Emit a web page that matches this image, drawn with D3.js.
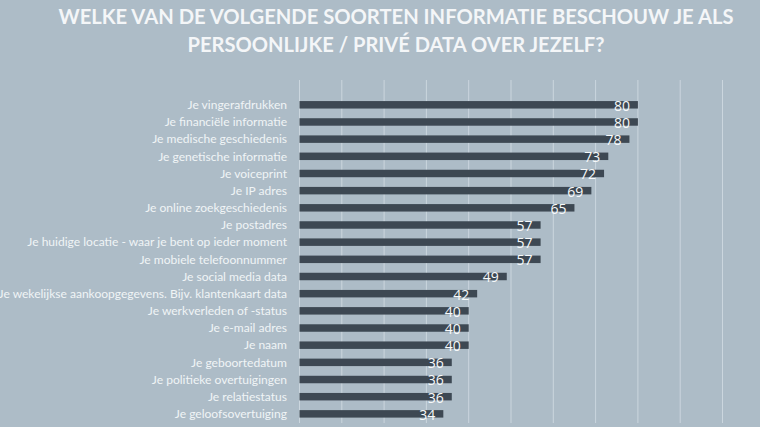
<!DOCTYPE html>
<html><head><meta charset="utf-8">
<script src="https://cdn.jsdelivr.net/npm/d3@7/dist/d3.min.js"></script>
<style>
html,body{margin:0;padding:0;background:#adbcc7;}
svg{display:block;}
</style></head>
<body>
<svg id="chart" width="760" height="427"></svg>
<script>
const titleLines = ["WELKE VAN DE VOLGENDE SOORTEN INFORMATIE BESCHOUW JE ALS", "PERSOONLIJKE / PRIVÉ DATA OVER JEZELF?"];
const categories = [
  "Je vingerafdrukken",
  "Je financiële informatie",
  "Je medische geschiedenis",
  "Je genetische informatie",
  "Je voiceprint",
  "Je IP adres",
  "Je online zoekgeschiedenis",
  "Je postadres",
  "Je huidige locatie - waar je bent op ieder moment",
  "Je mobiele telefoonnummer",
  "Je social media data",
  "Je wekelijkse aankoopgegevens. Bijv. klantenkaart data",
  "Je werkverleden of -status",
  "Je e-mail adres",
  "Je naam",
  "Je geboortedatum",
  "Je politieke overtuigingen",
  "Je relatiestatus",
  "Je geloofsovertuiging"
];
const values = [80, 80, 78, 73, 72, 69, 65, 57, 57, 57, 49, 42, 40, 40, 40, 36, 36, 36, 34];
const gridTicks = [0, 10, 20, 30, 40, 50, 60, 70, 80, 90, 100];

const svg = d3.select("#chart");
const x = d3.scaleLinear().domain([0, 100]).range([299.5, 722.5]);
const step = 17.17;
const y = d3.scaleBand().domain(categories)
  .range([104.8 - step / 2, 104.8 - step / 2 + step * categories.length])
  .paddingInner(0.565).paddingOuter(0.2825);

// title
svg.append("g").selectAll("text").data(titleLines).join("text")
  .attr("x", 396).attr("y", (d, i) => 24 + i * 28)
  .attr("text-anchor", "middle")
  .attr("fill", "#f4f6f8")
  .attr("font-family", "Lato, 'Open Sans', sans-serif")
  .attr("font-weight", "bold")
  .attr("font-size", 20)
  .attr("textLength", (d, i) => i === 0 ? 675 : 417)
  .attr("lengthAdjust", "spacingAndGlyphs")
  .text(d => d);

// gridlines
svg.append("g").selectAll("line").data(gridTicks).join("line")
  .attr("x1", d => x(d)).attr("x2", d => x(d))
  .attr("y1", 80).attr("y2", 423)
  .attr("stroke", "#cbd6de").attr("stroke-width", 1);

// bars
svg.append("g").selectAll("rect").data(values).join("rect")
  .attr("x", x(0))
  .attr("y", (d, i) => y(categories[i]))
  .attr("width", d => x(d) - x(0))
  .attr("height", y.bandwidth())
  .attr("fill", "#3d4853");

// category labels
svg.append("g").selectAll("text").data(categories).join("text")
  .attr("x", 287)
  .attr("y", d => y(d) + y.bandwidth() / 2)
  .attr("dy", "0.35em")
  .attr("text-anchor", "end")
  .attr("fill", "#f0f4f6")
  .attr("font-family", "Lato, 'Open Sans', sans-serif")
  .attr("font-size", 12.05)
  .text(d => d);

// value labels
svg.append("g").selectAll("text").data(values).join("text")
  .attr("x", d => x(d) - 8)
  .attr("y", (d, i) => y(categories[i]) + y.bandwidth() / 2 + 1)
  .attr("dy", "0.35em")
  .attr("text-anchor", "end")
  .attr("fill", "#f7f9fa")
  .attr("font-family", "'Open Sans', sans-serif")
  .attr("font-size", 14)
  .text(d => d);
</script>
</body></html>
